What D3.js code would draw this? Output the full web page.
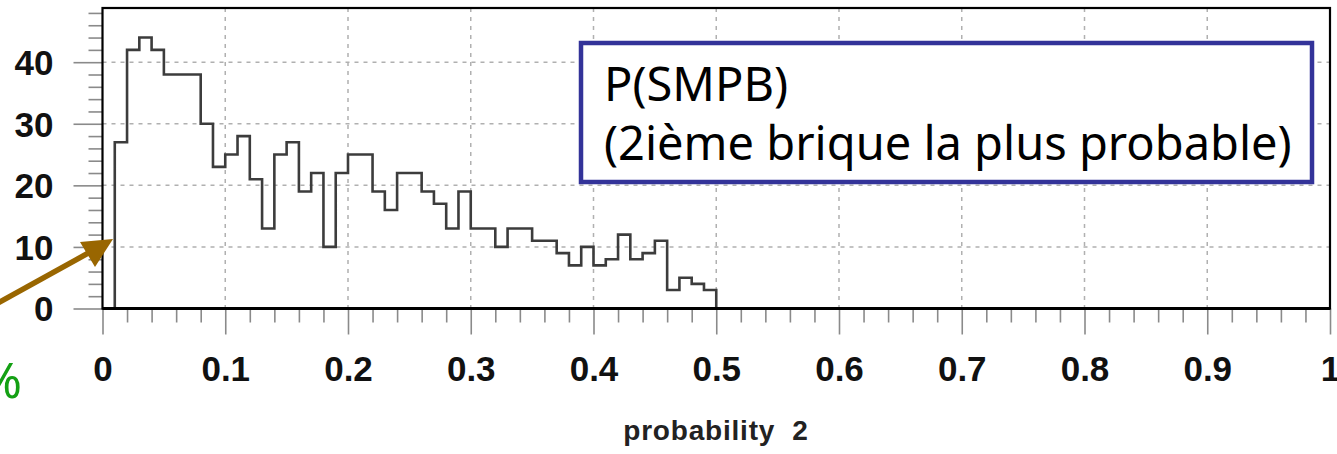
<!DOCTYPE html>
<html>
<head>
<meta charset="utf-8">
<script src="https://cdn.jsdelivr.net/npm/d3@7"></script>
<style>
html,body{margin:0;padding:0;background:#fff;overflow:hidden;}
svg{display:block;}
</style>
</head>
<body>
<svg id="chart" width="1337" height="454"></svg>
<script>
// ---- data ----
const binEdgesStart = 0.0;      // first bin edge
const binWidth = 0.01;          // histogram bin width
const counts = [0,27,42,44,42,38,38,38,30,23,
                25,28,21,13,25,27,19,22,10,22,
                25,25,19,16,22,22,19,17,13,19,
                13,13,10,13,13,11,11,9,7,10,
                7,8,12,8,9,11,3,5,4,3,0];
const xMajorTicks = [0,0.1,0.2,0.3,0.4,0.5,0.6,0.7,0.8,0.9,1];
const xTickLabels = ["0","0.1","0.2","0.3","0.4","0.5","0.6","0.7","0.8","0.9","1"];
const yMajorTicks = [0,10,20,30,40];
const yTickLabels = ["0","10","20","30","40"];
const xTitle = "probability  2";
const legendLines = ["P(SMPB)","(2ième brique la plus probable)"];
const sideMark = "%";

// ---- layout ----
const svg = d3.select("#chart");
const L = 102.5, R = 1330, T = 8, B = 308.5;
const x = d3.scaleLinear().domain([0,1]).range([L,R]);
const y = d3.scaleLinear().domain([0,48.8]).range([B,T]);

const xMinor = d3.range(0,1.0001,0.02).filter(v => Math.abs(v*10-Math.round(v*10))>1e-6);
const yMinor = d3.range(0,49,2).filter(v => v%10!==0);

// grid
const grid = svg.append("g").attr("stroke","#b0b0b0").attr("stroke-width",1.5).attr("stroke-dasharray","4,5");
grid.selectAll("line.v").data(xMajorTicks.filter(v=>v>0&&v<1)).join("line")
  .attr("x1",d=>x(d)).attr("x2",d=>x(d)).attr("y1",T).attr("y2",B);
grid.selectAll("line.h").data(yMajorTicks.filter(v=>v>0)).join("line")
  .attr("x1",L).attr("x2",R).attr("y1",d=>y(d)).attr("y2",d=>y(d));

// x axis
const fmtX = d => xTickLabels[xMajorTicks.indexOf(d)];
const gx = svg.append("g").attr("transform",`translate(0,${B})`)
  .call(d3.axisBottom(x).tickValues(xMajorTicks).tickSize(26).tickPadding(22).tickFormat(fmtX));
const gxm = svg.append("g").attr("transform",`translate(0,${B})`)
  .call(d3.axisBottom(x).tickValues(xMinor).tickSize(14).tickFormat(""));
// y axis
const fmtY = d => yTickLabels[yMajorTicks.indexOf(d)];
const gy = svg.append("g").attr("transform",`translate(${L},0)`)
  .call(d3.axisLeft(y).tickValues(yMajorTicks).tickSize(29).tickPadding(20).tickFormat(fmtY));
const gym = svg.append("g").attr("transform",`translate(${L},0)`)
  .call(d3.axisLeft(y).tickValues(yMinor).tickSize(14).tickFormat(""));

[gx,gxm,gy,gym].forEach(g=>{
  g.select(".domain").remove();
  g.selectAll(".tick line").attr("stroke","#8a8a8a").attr("stroke-width",1.6);
  g.selectAll("text").attr("font-family","'Liberation Sans', Arial, sans-serif")
    .attr("font-weight","bold").attr("font-size",35).attr("fill","#111");
});
gy.selectAll("text").attr("dy","0.35em");

// histogram step line
const pts = [];
counts.forEach((c,i)=>{
  const x0 = binEdgesStart + i*binWidth, x1 = x0 + binWidth;
  pts.push([x0,c]); pts.push([x1,c]);
});
pts.push([1,0]);
const line = d3.line().x(d=>x(d[0])).y(d=>y(d[1]));
svg.append("path").attr("d",line(pts)).attr("fill","none")
  .attr("stroke","#3c3c3c").attr("stroke-width",2.6).attr("stroke-linejoin","miter");

// frame
svg.append("rect").attr("x",L).attr("y",T).attr("width",R-L).attr("height",B-T)
  .attr("fill","none").attr("stroke","#000").attr("stroke-width",2.2);
svg.append("line").attr("x1",L).attr("x2",R).attr("y1",B).attr("y2",B)
  .attr("stroke","#000").attr("stroke-width",3);

// x title
svg.append("text").attr("x",716).attr("y",440).attr("text-anchor","middle")
  .attr("font-family","'Liberation Sans', Arial, sans-serif").attr("font-weight","bold")
  .attr("font-size",28).attr("letter-spacing",0.8).attr("fill","#222")
  .style("white-space","pre").text(xTitle);

// legend box
const lg = svg.append("g");
lg.append("rect").attr("x",581).attr("y",43).attr("width",731).attr("height",139)
  .attr("fill","#fff").attr("stroke","#333399").attr("stroke-width",4.5);
lg.selectAll("text").data(legendLines).join("text")
  .attr("x",604).attr("y",(d,i)=>101+i*59)
  .attr("font-family","'Comic Sans MS','Noto Sans',sans-serif").attr("font-size",47)
  .attr("fill","#000").text(d=>d);

// side arrow (annotation)
svg.append("line").attr("x1",-2).attr("y1",303).attr("x2",92).attr("y2",251)
  .attr("stroke","#996600").attr("stroke-width",5.5);
svg.append("path").attr("d","M113,239 L80,242 L95,267 Z").attr("fill","#996600");

svg.append("text").attr("x",22).attr("y",398).attr("text-anchor","end")
  .attr("font-family","'Comic Sans MS','Noto Sans',sans-serif").attr("font-size",50)
  .attr("fill","#14a014").text(sideMark);
</script>
</body>
</html>
